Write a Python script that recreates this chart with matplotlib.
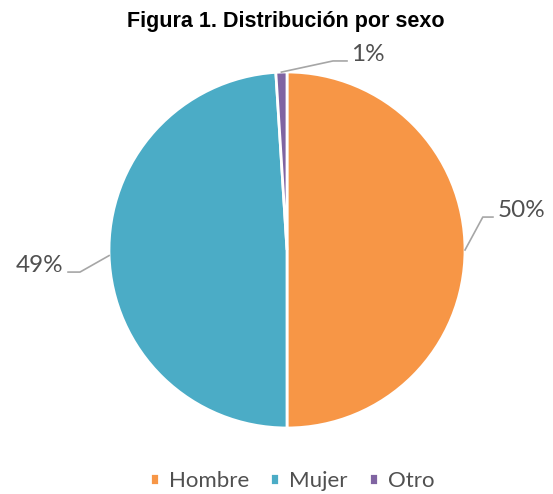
import matplotlib.pyplot as plt
import numpy as np

# data
categories = ["Hombre", "Mujer", "Otro"]
values = [50, 49, 1]
colors = ["#F79646", "#4BACC6", "#8064A2"]

# label placement: (elbow x, elbow y, end x) in pie radius units
label_pos = [(1.10, 0.185, 1.157), (-1.163, -0.124, -1.23), (0.258, 1.062, 0.337)]

fig = plt.figure(figsize=(5.53, 4.94), dpi=100)
ax = fig.add_axes([0, 0, 1, 1])

wedges, _ = ax.pie(values, colors=colors, startangle=90, counterclock=False,
                   radius=1, wedgeprops=dict(edgecolor="white", linewidth=2))

# pie() resets the limits, so set them afterwards
ax.set_xlim(-287 / 178, (553 - 287) / 178)
ax.set_ylim(-244 / 178, (494 - 244) / 178)
ax.set_aspect("equal")
ax.axis("off")

total = sum(values)
for w, v, (ex, ey, endx) in zip(wedges, values, label_pos):
    ang = np.deg2rad((w.theta1 + w.theta2) / 2)
    sx, sy = np.cos(ang), np.sin(ang)
    ax.plot([sx, ex, endx], [sy, ey, ey], color="#A6A6A6", lw=1.2)
    right = endx > ex
    ax.text(endx + (0.025 if right else -0.025), ey + 0.035, f"{round(v / total * 100)}%",
            ha="left" if right else "right", va="center",
            fontsize=17.5, color="#505050", family="Lato")

fig.text(286 / 553, 1 - 22 / 494, "Figura 1. Distribución por sexo",
         ha="center", va="center", fontsize=15.5, fontweight="bold",
         family="Liberation Sans", color="black")

leg = fig.legend(wedges, categories, loc="center", bbox_to_anchor=(0.528, 1 - 481 / 494),
                 ncol=3, frameon=False, handlelength=0.4, handleheight=0.4,
                 handletextpad=0.45, columnspacing=0.95,
                 prop=dict(family="Lato", size=16))
for t in leg.get_texts():
    t.set_color("#505050")

fig.savefig("out.png", dpi=100)
